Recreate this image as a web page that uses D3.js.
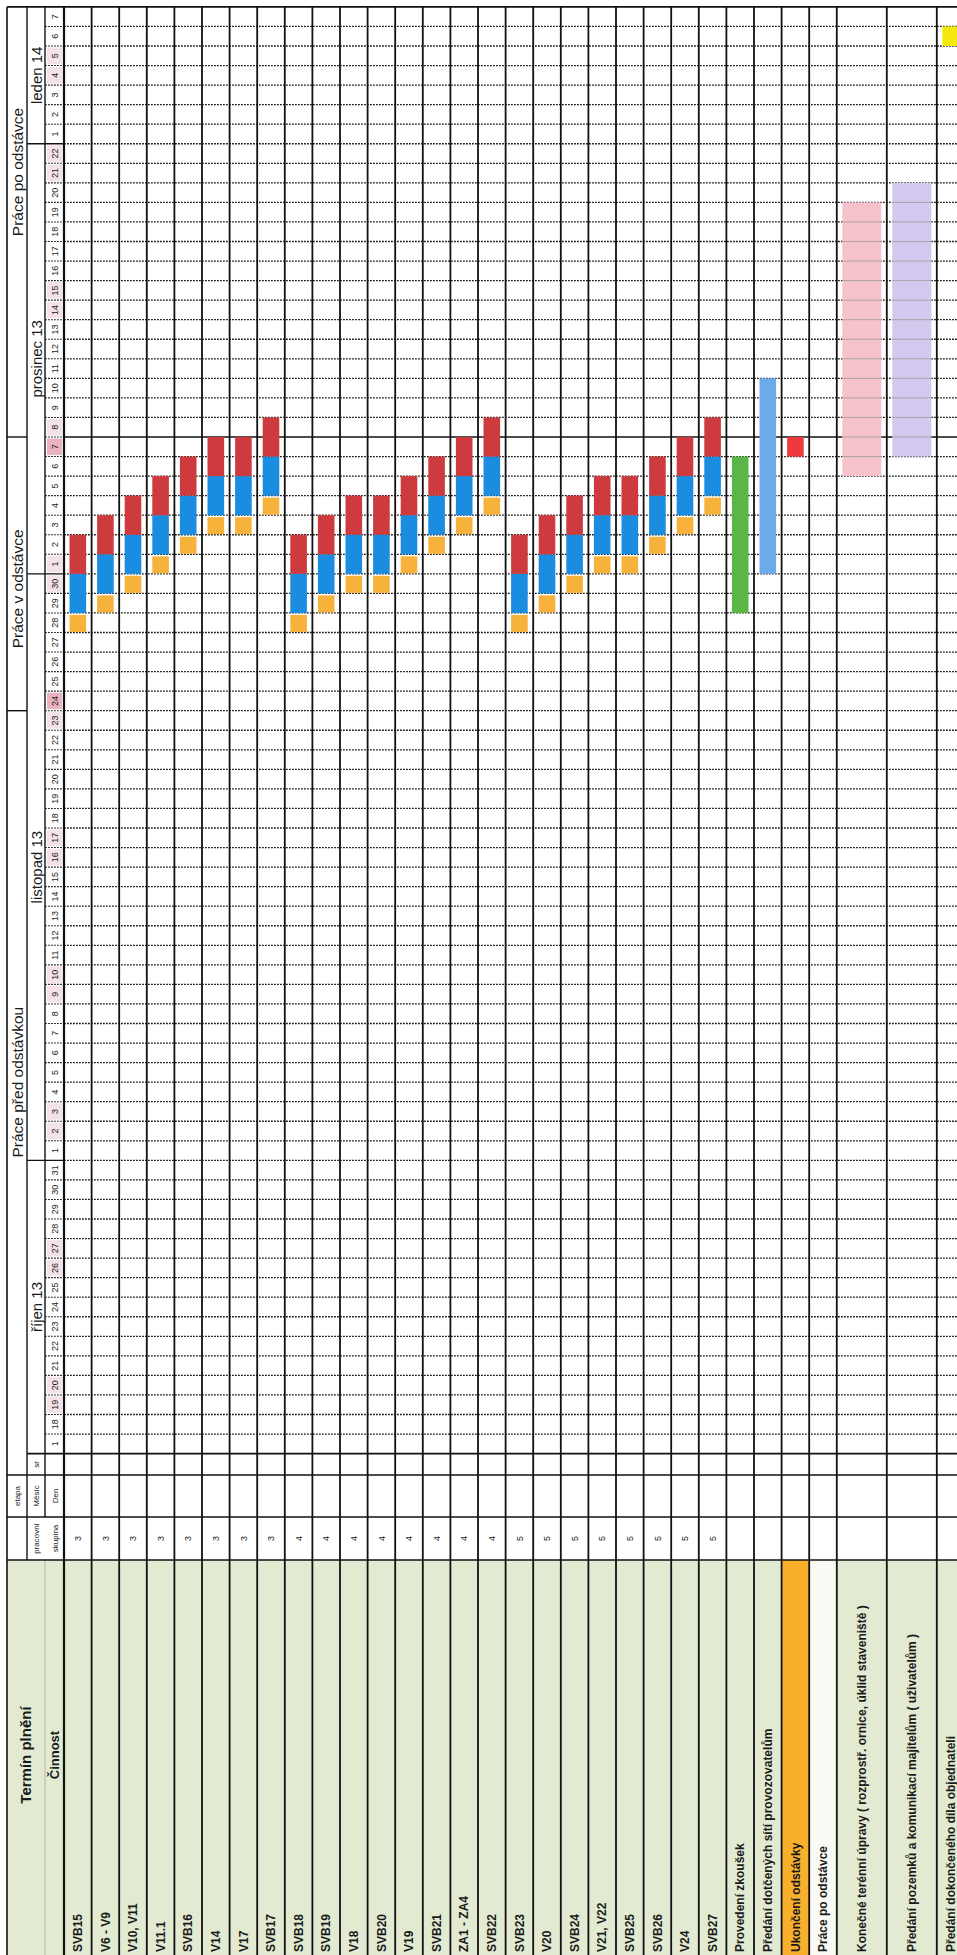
<!DOCTYPE html>
<html>
<head>
<meta charset="utf-8">
<script src="https://cdn.jsdelivr.net/npm/d3@7"></script>
<style>
  body { margin: 0; background: #fff; }
  svg { display: block; }
  text { font-family: "Liberation Sans", Arial, sans-serif; fill: #1a1a1a; }
</style>
</head>
<body>
<div id="chart"></div>
<script>
// --- data -----------------------------------------------------------------
const monthNames = ["říjen 13", "listopad 13", "prosinec 13", "leden 14"];
const monthKeys = ["10", "11", "12", "1"];
const octDays = [1, 18, 19, 20, 21, 22, 23, 24, 25, 26, 27, 28, 29, 30, 31];
const novDays = [1, 2, 3, 4, 5, 6, 7, 8, 9, 10, 11, 12, 13, 14, 15, 16, 17, 18, 19, 20,
                 21, 22, 23, 24, 25, 26, 27, 28, 29, 30];
const decDays = [1, 2, 3, 4, 5, 6, 7, 8, 9, 10, 11, 12, 13, 14, 15, 16, 17, 18, 19, 20, 21, 22];
const janDays = [1, 2, 3, 4, 5, 6, 7];

const phaseNames = ["Práce před odstávkou", "Práce v odstávce", "Práce po odstávce"];
const phaseStart = ["10-1", "11-24", "12-8"];

const weekendDays = ["10-19", "10-20", "10-26", "10-27", "11-2", "11-3", "11-9", "11-10",
                     "11-16", "11-17", "11-23", "11-30", "12-1", "12-8", "12-14", "12-15",
                     "12-21", "12-22", "1-4", "1-5"];
const markedDays = ["11-24", "12-7"];

const activities = ["SVB15", "V6 - V9", "V10, V11", "V11.1", "SVB16", "V14", "V17", "SVB17",
  "SVB18", "SVB19", "V18", "SVB20", "V19", "SVB21", "ZA1 - ZA4", "SVB22",
  "SVB23", "V20", "SVB24", "V21, V22", "SVB25", "SVB26", "V24", "SVB27",
  "Provedení zkoušek", "Předání dotčených sítí provozovatelům", "Ukončení odstávky",
  "Práce  po odstávce", "Konečné terénní úpravy ( rozprostř. ornice, úklid staveniště )",
  "Předání pozemků a komunikací majitelům ( uživatelům )",
  "Předání dokončeného díla objednateli"];
const workGroups = [3, 3, 3, 3, 3, 3, 3, 3, 4, 4, 4, 4, 4, 4, 4, 4, 5, 5, 5, 5, 5, 5, 5, 5];

// first day of each stacked bar (orange step), then blue and red follow
const prepStart = ["11-28", "11-29", "11-30", "12-1", "12-2", "12-3", "12-3", "12-4",
                   "11-28", "11-29", "11-30", "11-30", "12-1", "12-2", "12-3", "12-4",
                   "11-28", "11-29", "11-30", "12-1", "12-1", "12-2", "12-3", "12-4"];
const stepDays = [1, 2, 2];

const taskRows = ["Provedení zkoušek", "Předání dotčených sítí provozovatelům", "Ukončení odstávky",
  "Konečné terénní úpravy ( rozprostř. ornice, úklid staveniště )",
  "Předání pozemků a komunikací majitelům ( uživatelům )",
  "Předání dokončeného díla objednateli"];
const taskStart = ["11-29", "12-1", "12-7", "12-6", "12-7", "1-6"];
const taskDays = [8, 10, 1, 14, 14, 1];

// --- styles ---------------------------------------------------------------
const stepColors = ["#f7b23b", "#1a8de0", "#cd3b3f"];
const taskColors = ["#5cb647", "#6ea9ea", "#ee3a3e", "#f6c3cd", "#d3c9ee", "#f5e80e"];
const softTasks = [3, 4];
const tallRows = [28, 29];
const green = "#e3ead2";
const phaseShift = [0, -15, 50];   // label nudges as in the sheet

const W = 1955;
const yTop = 7, yMes = 27, yDen = 45, yBody = 64, rowH = 27.6, tallH = 50;
const xGrp = 395, xEt = 438, xSr = 480, x0 = 501.4, dayW = 19.55;

const dayKeys = [octDays, novDays, decDays, janDays]
  .flatMap((ds, m) => ds.map(d => monthKeys[m] + "-" + d));
const dayLabels = [octDays, novDays, decDays, janDays].flat();

const x = d3.scaleBand().domain(dayKeys).range([x0, x0 + dayW * dayKeys.length]);
const xEnd = x.range()[1];

// row positions
const rowTop = [], rowHt = [];
let acc = yBody;
activities.forEach((a, i) => {
  const h = tallRows.includes(i) ? tallH : rowH;
  rowTop.push(acc); rowHt.push(h); acc += h;
});
const yBottom = acc;

const svg = d3.select("#chart").append("svg").attr("width", 957).attr("height", 1955);
// chart drawn in landscape, turned so it reads bottom-to-top
const g = svg.append("g").attr("transform", `translate(0,${W}) rotate(-90)`);

// --- backgrounds ----------------------------------------------------------
g.append("rect").attr("x", -20).attr("y", yTop).attr("width", xGrp + 20).attr("height", yBody - yTop)
  .attr("fill", green);
g.selectAll(".rowbg").data(activities).join("rect")
  .attr("x", -20).attr("y", (d, i) => rowTop[i]).attr("width", xGrp + 20).attr("height", (d, i) => rowHt[i])
  .attr("fill", d => d === "Ukončení odstávky" ? "#f8b02c" : d === "Práce  po odstávce" ? "#fafaf4" : green);

// highlighted days in the "Den" header row
g.selectAll(".wk").data(weekendDays.concat(markedDays)).join("rect")
  .attr("x", d => x(d) + 1.5).attr("y", yDen + 2).attr("width", x.bandwidth() - 3).attr("height", yBody - yDen - 4)
  .attr("fill", d => markedDays.includes(d) ? "#eab3c0" : "#f5e2e8");

// --- grid -----------------------------------------------------------------
const inner = dayKeys.slice(1);
const monthFirst = monthKeys.map(m => m + "-1").slice(1);
const solidBody = ["12-8"];

g.selectAll(".dotDen").data(inner.filter(k => !monthFirst.includes(k))).join("line")
  .attr("x1", d => x(d)).attr("x2", d => x(d)).attr("y1", yDen).attr("y2", yBody)
  .attr("stroke", "#222").attr("stroke-width", 1.1).attr("stroke-dasharray", "1.8,1.2");
g.selectAll(".dotBody").data(inner.filter(k => !solidBody.includes(k))).join("line")
  .attr("x1", d => x(d)).attr("x2", d => x(d)).attr("y1", yBody).attr("y2", yBottom + 30)
  .attr("stroke", "#1a1a1a").attr("stroke-width", 1.3).attr("stroke-dasharray", "1.8,1.2");
g.selectAll(".solidBody").data(solidBody).join("line")
  .attr("x1", d => x(d)).attr("x2", d => x(d)).attr("y1", yBody).attr("y2", yBottom + 30)
  .attr("stroke", "#111").attr("stroke-width", 1.6);
g.selectAll(".monthLine").data(monthFirst).join("line")
  .attr("x1", d => x(d)).attr("x2", d => x(d)).attr("y1", yMes).attr("y2", yBody)
  .attr("stroke", "#111").attr("stroke-width", 1.4);
g.selectAll(".phaseLine").data(phaseStart.slice(1)).join("line")
  .attr("x1", d => x(d)).attr("x2", d => x(d)).attr("y1", yTop).attr("y2", yMes)
  .attr("stroke", "#111").attr("stroke-width", 1.4);

// row separators
const rowEdges = rowTop.concat([yBottom]);
g.selectAll(".rowLine").data(rowEdges).join("line")
  .attr("x1", -20).attr("x2", xEnd).attr("y1", d => d).attr("y2", d => d)
  .attr("stroke", "#111").attr("stroke-width", (d, i) => i === 0 ? 2.2 : 1.8);

// header lines
function hline(x1, x2, y, w = 1.4, c = "#111") {
  g.append("line").attr("x1", x1).attr("x2", x2).attr("y1", y).attr("y2", y)
    .attr("stroke", c).attr("stroke-width", w);
}
function vline(xx, y1, y2, w = 1.4) {
  g.append("line").attr("x1", xx).attr("x2", xx).attr("y1", y1).attr("y2", y2)
    .attr("stroke", "#111").attr("stroke-width", w);
}
hline(-20, xEnd, yTop, 1.6);
hline(xGrp, xEnd, yMes);
hline(xEt, xEnd, yDen);
hline(-20, xGrp, yDen, 0.8, "#a5ad95");
[xGrp, xEt, xSr].forEach(v => vline(v, yTop, yBottom + 30, 1.6));
vline(x0, yMes, yBottom + 30, 1.6);
vline(xEnd, yTop, yBottom + 30, 1.8);

// --- bars -----------------------------------------------------------------
const inset = 5.5;
const steps = [];
prepStart.forEach((s, r) => {
  let c = dayKeys.indexOf(s);
  stepDays.forEach((n, j) => {
    steps.push({ row: r, key: dayKeys[c], n: n, j: j });
    c += n;
  });
});
g.selectAll(".step").data(steps).join("rect")
  .attr("x", d => x(d.key) + (d.j === 0 ? 0.5 : 0))
  .attr("y", d => rowTop[d.row] + inset)
  .attr("width", d => d.n * x.bandwidth() - (d.j === 0 ? 2.5 : 0))
  .attr("height", d => rowHt[d.row] - 2 * inset)
  .attr("fill", d => stepColors[d.j]);

const tasks = taskRows.map((t, i) => ({ row: activities.indexOf(t), key: taskStart[i], n: taskDays[i], i: i }));
g.selectAll(".task").data(tasks).join("rect")
  .attr("x", d => x(d.key))
  .attr("y", d => rowTop[d.row] + inset)
  .attr("width", d => d.n * x.bandwidth())
  .attr("height", d => rowHt[d.row] - 2 * inset)
  .attr("fill", d => taskColors[d.i]);

// faint day lines showing through the pale bars
const softLines = [];
tasks.filter(d => softTasks.includes(d.i)).forEach(d => {
  const c = dayKeys.indexOf(d.key);
  dayKeys.slice(c + 1, c + d.n).forEach(k => softLines.push({ row: d.row, key: k }));
});
g.selectAll(".soft").data(softLines).join("line")
  .attr("x1", d => x(d.key)).attr("x2", d => x(d.key))
  .attr("y1", d => rowTop[d.row] + inset).attr("y2", d => rowTop[d.row] + rowHt[d.row] - inset)
  .attr("stroke", "#aaa5a7").attr("stroke-width", 1);

// --- text -----------------------------------------------------------------
function label(t, xx, yy, size, weight = "normal", anchor = "middle") {
  g.append("text").attr("x", xx).attr("y", yy).attr("dy", "0.35em")
    .attr("text-anchor", anchor).attr("font-size", size).attr("font-weight", weight).text(t);
}
label("Termín plnění", 200, (yTop + yDen) / 2, 15, "bold");
label("Činnost", 200, (yDen + yBody) / 2, 13, "bold");
label("pracovní", (xGrp + xEt) / 2, 36, 8);
label("skupina", (xGrp + xEt) / 2, 55, 8);
label("etapa", (xEt + xSr) / 2, 17, 8);
label("Měsíc", (xEt + xSr) / 2, 36, 8);
label("Den", (xEt + xSr) / 2, 55, 8);
label("sr", (xSr + x0) / 2, 36, 8);

phaseNames.forEach((p, i) => {
  const a = x(phaseStart[i]);
  const b = i < phaseNames.length - 1 ? x(phaseStart[i + 1]) : xEnd;
  label(p, (a + b) / 2 + phaseShift[i], 17.5, 15.5);
});
[octDays, novDays, decDays, janDays].forEach((ds, m) => {
  const a = x(monthKeys[m] + "-" + ds[0]);
  const b = x(monthKeys[m] + "-" + ds[ds.length - 1]) + x.bandwidth();
  label(monthNames[m], (a + b) / 2, 36.5, 15);
});
g.selectAll(".dayNum").data(dayKeys).join("text")
  .attr("x", d => x(d) + x.bandwidth() / 2).attr("y", 55).attr("dy", "0.35em")
  .attr("text-anchor", "middle").attr("font-size", 9).text((d, i) => dayLabels[i]);

g.selectAll(".act").data(activities).join("text")
  .attr("x", 3).attr("y", (d, i) => rowTop[i] + rowHt[i] / 2).attr("dy", "0.35em")
  .attr("font-size", 12).attr("font-weight", "bold")
  .attr("fill", d => d === "Ukončení odstávky" ? "#4d4420" : "#1a1a1a")
  .text(d => d);
g.selectAll(".grp").data(workGroups).join("text")
  .attr("x", (xGrp + xEt) / 2).attr("y", (d, i) => rowTop[i] + rowHt[i] / 2).attr("dy", "0.35em")
  .attr("text-anchor", "middle").attr("font-size", 9).text(d => d);
</script>
</body>
</html>
